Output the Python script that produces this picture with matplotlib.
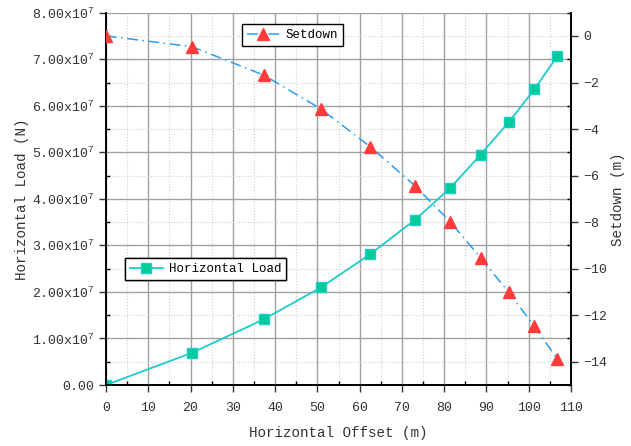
import numpy as np
import matplotlib
matplotlib.use("Agg")
import matplotlib.pyplot as plt
from matplotlib.ticker import MultipleLocator, FuncFormatter

# data
offset = [0, 20.3, 37.3, 50.9, 62.5, 73.1, 81.4, 88.6, 95.3, 101.3, 106.8]
load = [0.0, 0.69e7, 1.41e7, 2.10e7, 2.81e7, 3.55e7, 4.23e7, 4.95e7, 5.65e7, 6.35e7, 7.07e7]
setdown = [0.0, -0.46, -1.68, -3.14, -4.76, -6.44, -7.98, -9.53, -11.02, -12.47, -13.89]

plt.rcParams['font.family'] = ['Liberation Mono', 'DejaVu Sans']
plt.rcParams['mathtext.fontset'] = 'custom'
plt.rcParams['mathtext.rm'] = 'Liberation Mono'
plt.rcParams['mathtext.it'] = 'Liberation Mono'

fig = plt.figure(figsize=(6.31, 4.46), dpi=100)
W, H = 631, 446
ax = fig.add_axes([106 / W, 1 - 385 / H, (571 - 106) / W, (385 - 12.7) / H])
ax2 = ax.twinx()

ax.set_xlim(0, 110)
ax.set_ylim(0, 8e7)
ax2.set_ylim(-15, 1)

ax.xaxis.set_major_locator(MultipleLocator(10))
ax.xaxis.set_minor_locator(MultipleLocator(5))
ax.yaxis.set_major_locator(MultipleLocator(1e7))
ax.yaxis.set_minor_locator(MultipleLocator(0.5e7))
ax2.yaxis.set_major_locator(MultipleLocator(2))
ax2.yaxis.set_minor_locator(MultipleLocator(1))

def load_fmt(v, pos):
    if abs(v) < 1:
        return "0.00"
    return r"%.2fx10$^{7}$" % (v / 1e7)

ax.yaxis.set_major_formatter(FuncFormatter(load_fmt))
ax2.yaxis.set_major_formatter(FuncFormatter(lambda v, p: "%d" % v if v >= 0 else "\u2212%d" % (-v)))

ax.grid(True, which='major', color='#a0a0a0', lw=1.0, ls='-')
ax.grid(True, which='minor', color='#d0d0d0', lw=0.8, ls=':')
ax.set_axisbelow(True)

for a in (ax, ax2):
    a.tick_params(which='major', direction='out', length=5, width=1, labelsize=9.5, colors='#333333')
    a.tick_params(which='minor', direction='in', length=3, width=1)
    for s in a.spines.values():
        s.set_linewidth(1.2)
ax.tick_params(axis='x', which='major', pad=7)

ax.spines['top'].set_visible(False)
ax2.spines['top'].set_visible(False)

l1, = ax.plot(offset, load, color='#1ecbcb', lw=1.3, marker='s', ms=7,
              mfc='#00cc99', mec='#1ecbcb', label='Horizontal Load', zorder=3)
l2, = ax2.plot(offset, setdown, color='#2b9cf0', lw=1.1, ls=(0, (7, 3, 1, 3)),
               marker='^', ms=9, mfc='#ff3b3b', mec='#ff3b3b', label='Setdown', zorder=3)

ax.set_xlabel('Horizontal Offset (m)', fontsize=10.3, color='#333333', labelpad=9)
ax.set_ylabel('Horizontal Load (N)', fontsize=10.3, color='#333333', labelpad=2)
ax2.set_ylabel('Setdown (m)', fontsize=10.3, color='#333333', rotation=90, labelpad=3)

leg1 = ax.legend(handles=[l1], loc='upper left', bbox_to_anchor=(125 / W, 1 - 258 / H),
                 bbox_transform=fig.transFigure, fancybox=False, edgecolor='black',
                 framealpha=1, fontsize=9, handlelength=2.6, borderpad=0.4,
                 handletextpad=0.5, borderaxespad=0)
leg1.get_frame().set_linewidth(1.0)
ax.add_artist(leg1)
leg2 = ax2.legend(handles=[l2], loc='upper left', bbox_to_anchor=(242 / W, 1 - 24 / H),
                  bbox_transform=fig.transFigure, fancybox=False, edgecolor='black',
                  framealpha=1, fontsize=9, handlelength=2.6, borderpad=0.4,
                  handletextpad=0.5, borderaxespad=0)
leg2.get_frame().set_linewidth(1.0)

fig.savefig('out.png', dpi=100)
